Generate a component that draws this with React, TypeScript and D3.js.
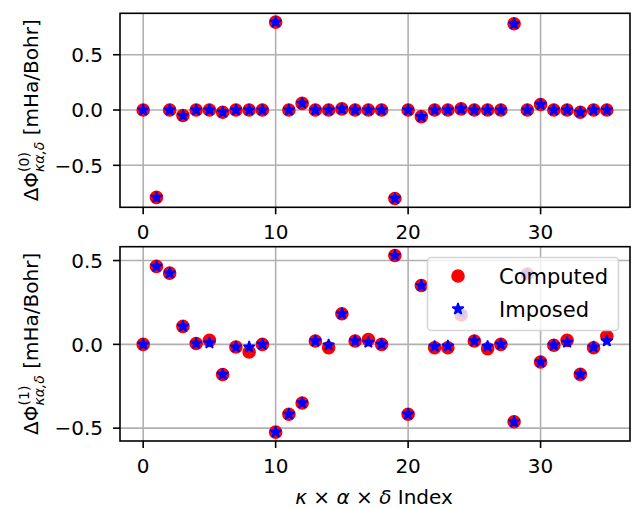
import React from 'react';
import * as d3 from 'd3';

// index on the x axis (kappa x alpha x delta)
const indices = [
  0, 1, 2, 3, 4, 5, 6, 7, 8, 9, 10, 11, 12, 13, 14, 15, 16, 17,
  18, 19, 20, 21, 22, 23, 24, 25, 26, 27, 28, 29, 30, 31, 32, 33, 34, 35,
];

// top panel, order 0
const computed0 = [
  0.0, -0.79, 0.0, -0.05, 0.0, 0.0, -0.02, 0.0, 0.0, 0.0, 0.795, 0.0,
  0.06, 0.0, 0.0, 0.01, 0.0, 0.0, 0.0, -0.8, 0.0, -0.06, 0.0, 0.0,
  0.01, 0.0, 0.0, 0.0, 0.78, 0.0, 0.05, 0.0, 0.0, -0.02, 0.0, 0.0,
];
const imposed0 = [
  0.0, -0.79, 0.0, -0.05, 0.0, 0.0, -0.02, 0.0, 0.0, 0.0, 0.795, 0.0,
  0.06, 0.0, 0.0, 0.01, 0.0, 0.0, 0.0, -0.8, 0.0, -0.06, 0.0, 0.0,
  0.01, 0.0, 0.0, 0.0, 0.78, 0.0, 0.05, 0.0, 0.0, -0.02, 0.0, 0.0,
];

// bottom panel, order 1
const computed1 = [
  0.0, 0.465, 0.425, 0.107, 0.005, 0.024, -0.18, -0.016, -0.046, 0.0, -0.524, -0.417,
  -0.35, 0.02, -0.02, 0.183, 0.02, 0.028, 0.0, 0.53, -0.417, 0.351, -0.02, -0.02,
  0.175, 0.02, -0.026, 0.0, -0.462, 0.42, -0.105, -0.005, 0.024, -0.179, -0.02, 0.048,
];
const imposed1 = [
  0.0, 0.465, 0.425, 0.107, 0.005, 0.008, -0.18, -0.016, -0.016, 0.0, -0.524, -0.417,
  -0.35, 0.02, -0.004, 0.183, 0.02, 0.012, 0.0, 0.53, -0.417, 0.351, -0.012, -0.01,
  0.185, 0.02, -0.012, 0.0, -0.462, 0.42, -0.105, -0.005, 0.012, -0.179, -0.016, 0.02,
];

const xTicks = [0, 10, 20, 30];
const yTicks = [-0.5, 0.0, 0.5];

const W = 639;
const H = 508;
const left = 120;
const right = 630;
const FONT = 'DejaVu Sans, sans-serif';
const GRID = '#b0b0b0';

// matplotlib style 5% padding
const padded = (lo: number, hi: number): [number, number] => {
  const m = (hi - lo) * 0.05;
  return [lo - m, hi + m];
};

const x = d3.scaleLinear()
  .domain(padded(d3.min(indices)!, d3.max(indices)!))
  .range([left, right]);

const starPath = d3.symbol().type(d3.symbolStar).size(40)()!;
const fmt = (v: number) => d3.format('.1f')(v).replace('-', '\u2212');

type PanelProps = {
  top: number;
  bottom: number;
  computed: number[];
  imposed: number[];
  order: string;
  legend?: boolean;
};

const Star = ({ cx, cy }: { cx: number; cy: number }) => (
  <path d={starPath} transform={`translate(${cx},${cy})`} fill="blue" stroke="blue" strokeWidth={1.6} strokeLinejoin="bevel" />
);

const Panel = ({ top, bottom, computed, imposed, order, legend }: PanelProps) => {
  const all = computed.concat(imposed);
  const y = d3.scaleLinear()
    .domain(padded(d3.min(all)!, d3.max(all)!))
    .range([bottom, top]);
  const mid = (top + bottom) / 2;

  return (
    <g>
      {/* grid */}
      {xTicks.map(t => (
        <line key={'gx' + t} x1={x(t)} x2={x(t)} y1={top} y2={bottom} stroke={GRID} strokeWidth={1.6} />
      ))}
      {yTicks.map(t => (
        <line key={'gy' + t} x1={left} x2={right} y1={y(t)} y2={y(t)} stroke={GRID} strokeWidth={1.6} />
      ))}

      {/* data */}
      {computed.map((v, i) => (
        <circle key={'c' + i} cx={x(indices[i])} cy={y(v)} r={6} fill="red" stroke="red" strokeWidth={1.6} />
      ))}
      {imposed.map((v, i) => (
        <Star key={'s' + i} cx={x(indices[i])} cy={y(v)} />
      ))}

      {/* frame */}
      <rect x={left} y={top} width={right - left} height={bottom - top} fill="none" stroke="black" strokeWidth={1.6} />

      {/* x ticks */}
      {xTicks.map(t => (
        <g key={'tx' + t}>
          <line x1={x(t)} x2={x(t)} y1={bottom} y2={bottom + 7} stroke="black" strokeWidth={1.6} />
          <text x={x(t)} y={bottom + 32} textAnchor="middle" fontSize={20} fontFamily={FONT}>{t}</text>
        </g>
      ))}
      {/* y ticks */}
      {yTicks.map(t => (
        <g key={'ty' + t}>
          <line x1={left - 7} x2={left} y1={y(t)} y2={y(t)} stroke="black" strokeWidth={1.6} />
          <text x={103} y={y(t)} dy="0.36em" textAnchor="end" fontSize={20} fontFamily={FONT}>{fmt(t)}</text>
        </g>
      ))}

      {/* y label */}
      <text transform={`translate(38,${mid}) rotate(-90)`} textAnchor="middle" fontSize={20} fontFamily={FONT}>
        <tspan>ΔΦ</tspan>
        <tspan fontSize={14} dy={-9}>({order})</tspan>
        <tspan fontSize={14} dx={-20} dy={15} fontStyle="italic">κα,δ</tspan>
        <tspan dy={-6}> [mHa/Bohr]</tspan>
      </text>

      {legend && (
        <g>
          <rect x={427.5} y={257.5} width={191} height={73} rx={4}
            fill="white" fillOpacity={0.8} stroke="#cccccc" strokeOpacity={0.8} strokeWidth={1.6} />
          <circle cx={458} cy={276} r={6} fill="red" stroke="red" strokeWidth={1.6} />
          <text x={499} y={284} fontSize={21} fontFamily={FONT}>Computed</text>
          <Star cx={458} cy={309} />
          <text x={499} y={317} fontSize={21} fontFamily={FONT}>Imposed</text>
        </g>
      )}
    </g>
  );
};

const App = () => (
  <svg width={W} height={H} style={{ display: 'block', position: 'absolute', left: 0, top: 0, background: '#ffffff' }}>
    <Panel top={13.3} bottom={207.3} computed={computed0} imposed={imposed0} order="0" />
    <Panel top={246.7} bottom={441} computed={computed1} imposed={imposed1} order="1" legend />
    <text x={374} y={504} textAnchor="middle" fontSize={20} fontFamily={FONT}>
      <tspan fontStyle="italic">κ</tspan>
      <tspan> × </tspan>
      <tspan fontStyle="italic">α</tspan>
      <tspan> × </tspan>
      <tspan fontStyle="italic">δ</tspan>
      <tspan> Index</tspan>
    </text>
  </svg>
);

export default App;
